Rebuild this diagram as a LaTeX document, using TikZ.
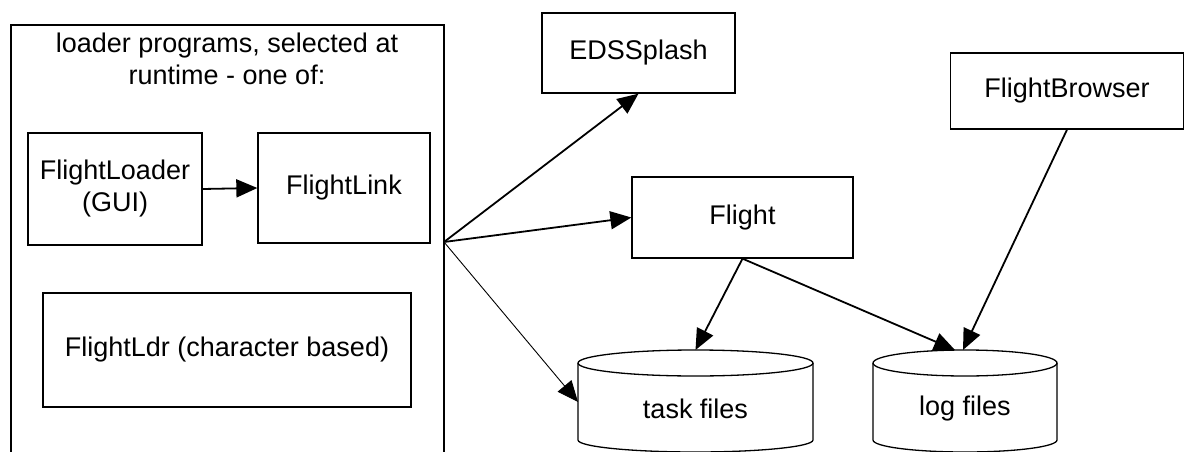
\documentclass[tikz,border=0pt]{standalone}
\usepackage{fontspec}
\setmainfont{Liberation Sans}
\usetikzlibrary{arrows.meta,calc}
\begin{document}
\begin{tikzpicture}[x=1pt,y=-1pt,
  every node/.style={font=\fontsize{27}{32}\selectfont, inner sep=0pt},
  box/.style={draw, line width=1.3pt, minimum width=#1},
  tip/.style={-{Triangle[length=21pt 0,width=18pt 0]}},
  conn/.style={line width=1.8pt, tip},
  thinconn/.style={line width=0.9pt, tip},
  cyl/.style={line width=1.3pt}]
\useasboundingbox (0,0) rectangle (1185,452);
\clip (0,0) rectangle (1185,452);

% container for the loader programs, open at the bottom
\draw[line width=1.3pt] (11,470) -- (11,25) -- (444,25) -- (444,470);
\node[align=center] (title) at (227,59) {loader programs, selected at\\runtime - one of:};
\coordinate (hub) at (444,242);

\node[box=174pt, minimum height=112pt, align=center] (loader) at (115,189) {FlightLoader\\(GUI)};
\node[box=172pt, minimum height=110pt] (link) at (344,188) {FlightLink};
\node[box=368pt, minimum height=114pt] (ldr) at (227,350) {FlightLdr (character based)};

\node[box=193pt, minimum height=80pt] (edss) at (638.5,53) {EDSSplash};
\node[box=221pt, minimum height=81pt] (flight) at (742.5,217.5) {Flight};
\node[box=233pt, minimum height=76pt] (browser) at (1067,91) {FlightBrowser};

% data stores
\draw[cyl] (578,363) -- (578,440) arc[start angle=180,end angle=0,x radius=117.5,y radius=12] -- (813,363);
\draw[cyl] (695.5,363) ellipse[x radius=117.5,y radius=13];
\node (task) at (695.5,409) {task files};
\coordinate (tasktop) at (695.5,350);
\coordinate (taskside) at (578,402);

\draw[cyl] (873,363) -- (873,440) arc[start angle=180,end angle=0,x radius=92,y radius=12] -- (1057,363);
\draw[cyl] (965,363) ellipse[x radius=92,y radius=13];
\node (log) at (965,409) {log files};
\coordinate (logtopa) at (955,350);
\coordinate (logtopb) at (963,350);

% connectors
\draw[conn] (loader.east) -- (link.west);
\draw[conn] (hub) -- (edss.south);
\draw[conn] (hub) -- (flight.west);
\draw[thinconn] (hub) -- (taskside);
\draw[conn] (flight.south) -- (tasktop);
\draw[conn] (flight.south) -- (logtopa);
\draw[conn] (browser.south) -- (logtopb);
\end{tikzpicture}
\end{document}
